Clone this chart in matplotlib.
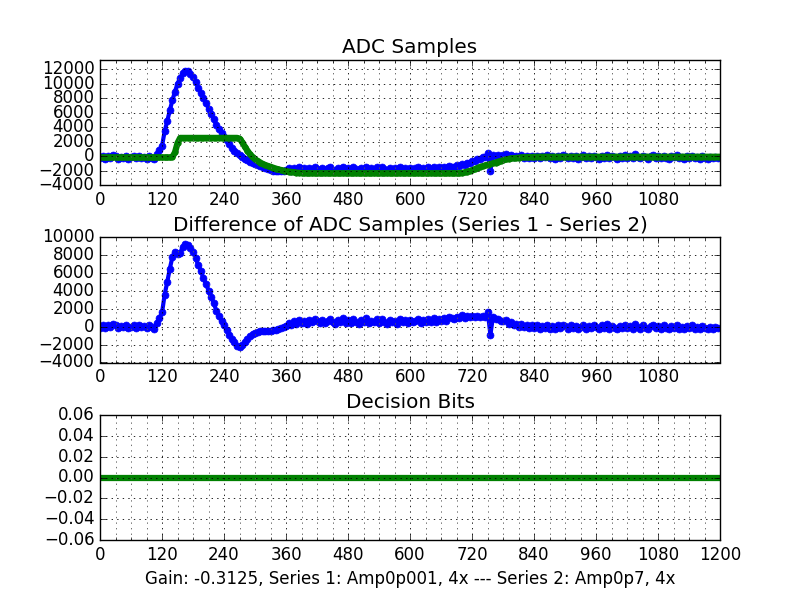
import matplotlib
matplotlib.use("Agg")
import matplotlib.pyplot as plt
from matplotlib.ticker import MultipleLocator, FuncFormatter
import numpy as np

plt.style.use("classic")

# sample index (every 5th sample)
sample_x = np.arange(0, 1200, 5)

series1 = [
    -300, -50, -350, 0, -250, 150, -50, -350, -100, -250, 0, -350,
    -200, -50, -300, 50, -250, -100, -350, 0, -250, -400, 250, 800,
    1400, 3400, 4800, 6300, 7700, 8900, 10000, 10800, 11400, 11800, 11700, 11300,
    10900, 10150, 9450, 8750, 7950, 7300, 6550, 5850, 5150, 4300, 3700, 3150,
    2650, 2150, 1600, 1150, 750, 400, 150, -150, -400, -600, -800, -950,
    -1100, -1250, -1400, -1550, -1700, -1820, -1950, -2000, -2080, -2100, -2060, -2000,
    -1950, -1700, -2050, -1650, -1950, -1550, -1900, -1700, -2050, -1600, -1850, -1500,
    -1750, -2000, -1600, -1950, -1700, -1500, -1900, -2100, -1650, -1850, -1450, -1950,
    -1650, -2000, -1550, -1850, -2100, -1600, -1800, -1450, -2000, -1700, -1900, -1550,
    -1950, -1500, -1800, -2050, -1600, -1900, -1700, -2100, -1550, -1850, -1650, -2000,
    -1600, -1900, -1700, -1500, -2000, -1650, -1850, -1550, -1900, -1450, -1800, -1550,
    -1700, -1450, -1700, -1350, -1450, -1550, -1250, -1400, -1050, -1250, -900, -950,
    -750, -650, -450, -400, -200, -150, 400, -2000, 150, -50, 100, 0,
    100, 250, -50, 150, -150, 50, -200, 150, -250, 0, -300, 50,
    -250, 50, -300, 0, -200, 150, -300, -50, -350, 50, -250, 100,
    -50, -300, 50, -250, 0, -350, -100, 150, -300, -50, -250, 50,
    -150, -350, 50, -250, 200, -300, -50, -200, -400, 0, -250, 100,
    -250, 0, -300, 250, -150, -300, 50, -200, -350, -50, 100, -250,
    -50, -300, 50, -250, -350, 0, -200, 100, -300, -100, -400, 0,
    -250, 50, -300, -100, -350, 0, -250, -400, -100, -300, -150, -250,
]

series2 = [
    -200, -200, -200, -200, -200, -200, -200, -200, -200, -200, -200, -200,
    -200, -200, -200, -200, -200, -200, -200, -200, -200, -200, -200, -200,
    -200, -200, -200, -200, -120, 500, 1800, 2500, 2500, 2500, 2500, 2500,
    2500, 2500, 2500, 2500, 2500, 2500, 2500, 2500, 2500, 2500, 2500, 2500,
    2500, 2500, 2500, 2500, 2500, 2500, 2400, 1900, 1300, 750, 250, -150,
    -450, -700, -900, -1100, -1250, -1380, -1500, -1620, -1750, -1850, -1930, -2000,
    -2080, -2150, -2200, -2250, -2290, -2320, -2350, -2370, -2390, -2390, -2390, -2390,
    -2390, -2390, -2390, -2390, -2390, -2390, -2390, -2390, -2390, -2390, -2390, -2390,
    -2390, -2390, -2390, -2390, -2390, -2390, -2390, -2390, -2390, -2390, -2390, -2390,
    -2390, -2390, -2390, -2390, -2390, -2390, -2390, -2390, -2390, -2390, -2390, -2390,
    -2390, -2390, -2390, -2390, -2390, -2390, -2390, -2390, -2390, -2390, -2390, -2390,
    -2390, -2390, -2390, -2390, -2390, -2390, -2390, -2390, -2330, -2250, -2150, -2050,
    -1950, -1800, -1650, -1500, -1400, -1300, -1200, -1100, -1000, -900, -780, -680,
    -580, -480, -400, -340, -300, -260, -230, -200, -180, -160, -140, -120,
    -110, -100, -100, -100, -100, -100, -100, -100, -100, -100, -100, -100,
    -100, -100, -100, -100, -100, -100, -100, -100, -100, -100, -100, -100,
    -100, -100, -100, -100, -100, -100, -100, -100, -100, -100, -100, -100,
    -100, -100, -100, -100, -100, -100, -100, -100, -100, -100, -100, -100,
    -100, -100, -100, -100, -100, -100, -100, -100, -100, -100, -100, -100,
    -100, -100, -100, -100, -100, -100, -100, -100, -100, -100, -100, -100,
]

decision_x = [0, 1200]
decision_bits = [0, 0]

titles = ["ADC Samples", "Difference of ADC Samples (Series 1 - Series 2)", "Decision Bits"]
bottom_label = "Gain: -0.3125, Series 1: Amp0p001, 4x --- Series 2: Amp0p7, 4x"

difference = np.array(series1) - np.array(series2)

fig = plt.figure(figsize=(8, 6), dpi=100, facecolor="white")
fig.subplots_adjust(left=0.125, right=0.9, top=0.9, bottom=0.1, hspace=0.42)
ax1 = fig.add_subplot(311)
ax2 = fig.add_subplot(312)
ax3 = fig.add_subplot(313)

ax1.plot(sample_x, series1, color="blue", marker=".", markersize=10, markeredgecolor="blue",
         linewidth=3)
ax1.plot(sample_x, series2, color="green", marker=".", markersize=8, markeredgecolor="green",
         linewidth=4.5)
ax1.set_xlim(0, 1199)
ax1.set_ylim(-4000, 13250)
ax1.yaxis.set_major_locator(MultipleLocator(2000))

ax2.plot(sample_x, difference, color="blue", marker=".", markersize=10, markeredgecolor="blue",
         linewidth=3)
ax2.set_xlim(0, 1199)
ax2.set_ylim(-4000, 10000)
ax2.yaxis.set_major_locator(MultipleLocator(2000))

ax3.plot(decision_x, decision_bits, color="green", linewidth=4.5)
ax3.set_xlim(0, 1200)
ax3.set_ylim(-0.06, 0.06)
ax3.yaxis.set_major_locator(MultipleLocator(0.02))
ax3.yaxis.set_major_formatter(FuncFormatter(lambda v, p: f"{v:.2f}".replace("-", "\u2212")))
ax3.set_xlabel(bottom_label, fontsize=12)

for ax, t in zip([ax1, ax2, ax3], titles):
    ax.set_title(t, fontsize=14.4)
    ax.xaxis.set_major_locator(MultipleLocator(120))
    ax.xaxis.set_minor_locator(MultipleLocator(30))
    ax.grid(True, which="major", color="black", linestyle=":", linewidth=0.6)
    ax.grid(True, which="minor", axis="x", color="0.35", linestyle=":", linewidth=0.6)
    ax.tick_params(labelsize=12)
    ax.set_axisbelow(False)

fig.savefig("out.png", dpi=100, facecolor="white")
